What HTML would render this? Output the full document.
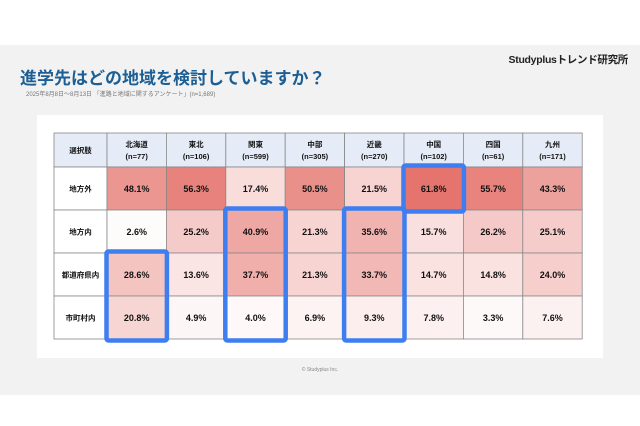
<!DOCTYPE html>
<html><head><meta charset="utf-8"><style>
body{margin:0;width:640px;height:426px;background:#fff;position:relative;overflow:hidden;font-family:"Liberation Sans","Noto Sans CJK JP",sans-serif}
#slide{position:absolute;left:0;top:45px;width:640px;height:350px;background:#f2f2f2}
#title{position:absolute;left:20px;top:64px;font-size:17px;font-weight:bold;color:#1d5f94;white-space:nowrap}
#brand{position:absolute;right:12px;top:52px;font-size:10.5px;font-weight:bold;color:#222;white-space:nowrap;letter-spacing:-0.3px}
#sub{position:absolute;left:26px;top:89px;font-size:6px;color:#777;white-space:nowrap}
#panel{position:absolute;left:37px;top:115px;width:566px;height:243px;background:#fff}
#copy{position:absolute;left:0;width:640px;top:367px;text-align:center;font-size:5px;color:#888}
svg{position:absolute;left:0;top:0}
</style></head><body>
<div id="slide"></div>
<div id="brand">Studyplusトレンド研究所</div>
<div id="title">進学先はどの地域を検討していますか？</div>
<div id="sub">2025年8月8日～8月13日 「進路と地域に関するアンケート」(n=1,689)</div>
<div id="panel"></div>
<div id="copy">© Studyplus Inc.</div>
<svg id="chart" width="640" height="426"></svg>
<script>
const regions=["北海道","東北","関東","中部","近畿","中国","四国","九州"];
const sampleSizes=["(n=77)","(n=106)","(n=599)","(n=305)","(n=270)","(n=102)","(n=61)","(n=171)"];
const rowLabels=["地方外","地方内","都道府県内","市町村内"];
const vOutside=[48.1,56.3,17.4,50.5,21.5,61.8,55.7,43.3];
const vRegion=[2.6,25.2,40.9,21.3,35.6,15.7,26.2,25.1];
const vPref=[28.6,13.6,37.7,21.3,33.7,14.7,14.8,24.0];
const vCity=[20.8,4.9,4.0,6.9,9.3,7.8,3.3,7.6];
const highlights=[[5,0,0],[2,1,3],[4,1,3],[0,2,3]];
const rows=[vOutside,vRegion,vPref,vCity];
const NS="http://www.w3.org/2000/svg",svg=document.getElementById('chart');
const x0=54,c0w=53,cw=59.4,hy=133,hh=34,rh=43;
const colX=i=>x0+c0w+i*cw, rowY=j=>hy+hh+j*rh;
function el(t,a){const e=document.createElementNS(NS,t);for(const k in a)e.setAttribute(k,a[k]);svg.appendChild(e);return e;}
function color(v){const t=Math.pow(Math.min(v/62,1),1.1);const c=[255-t*(255-229),255-t*(255-116),255-t*(255-110)].map(Math.round);return `rgb(${c})`;}
function txt(x,y,s,fs){const e=el('text',{x:x,y:y,'text-anchor':'middle','font-size':fs,'font-weight':'bold',fill:'#111'});e.textContent=s;return e;}
let h=el('rect',{x:x0,y:hy,width:c0w,height:hh,fill:'#e6ecf7',stroke:'#888','stroke-width':0.8});

txt(x0+c0w/2,hy+hh/2+3,'選択肢',7.5);
regions.forEach((r,i)=>{
 const e=el('rect',{x:colX(i),y:hy,width:cw,height:hh,fill:'#e6ecf7',stroke:'#888','stroke-width':0.8});
 
 
 txt(colX(i)+cw/2,hy+14,r,7.5);txt(colX(i)+cw/2,hy+26,sampleSizes[i],7.5);
});
rowLabels.forEach((l,j)=>{
 const e=el('rect',{x:x0,y:rowY(j),width:c0w,height:rh,fill:'#fff',stroke:'#888','stroke-width':0.8});
 
 
 txt(x0+c0w/2,rowY(j)+rh/2+3,l,7.5);
 rows[j].forEach((v,i)=>{
  const c=el('rect',{x:colX(i),y:rowY(j),width:cw,height:rh,fill:color(v),stroke:'#888','stroke-width':0.8});
  
  
  txt(colX(i)+cw/2,rowY(j)+rh/2+3.5,v.toFixed(1)+'%',9);
 });
});
highlights.forEach(([c,r1,r2])=>{
 const b=el('rect',{x:colX(c)-0.5,y:rowY(r1)-1.5,width:cw+1,height:(r2-r1+1)*rh+3,fill:'none',stroke:'#3d7ff0','stroke-width':4.5,rx:2});
 
 
});
</script>
</body></html>
